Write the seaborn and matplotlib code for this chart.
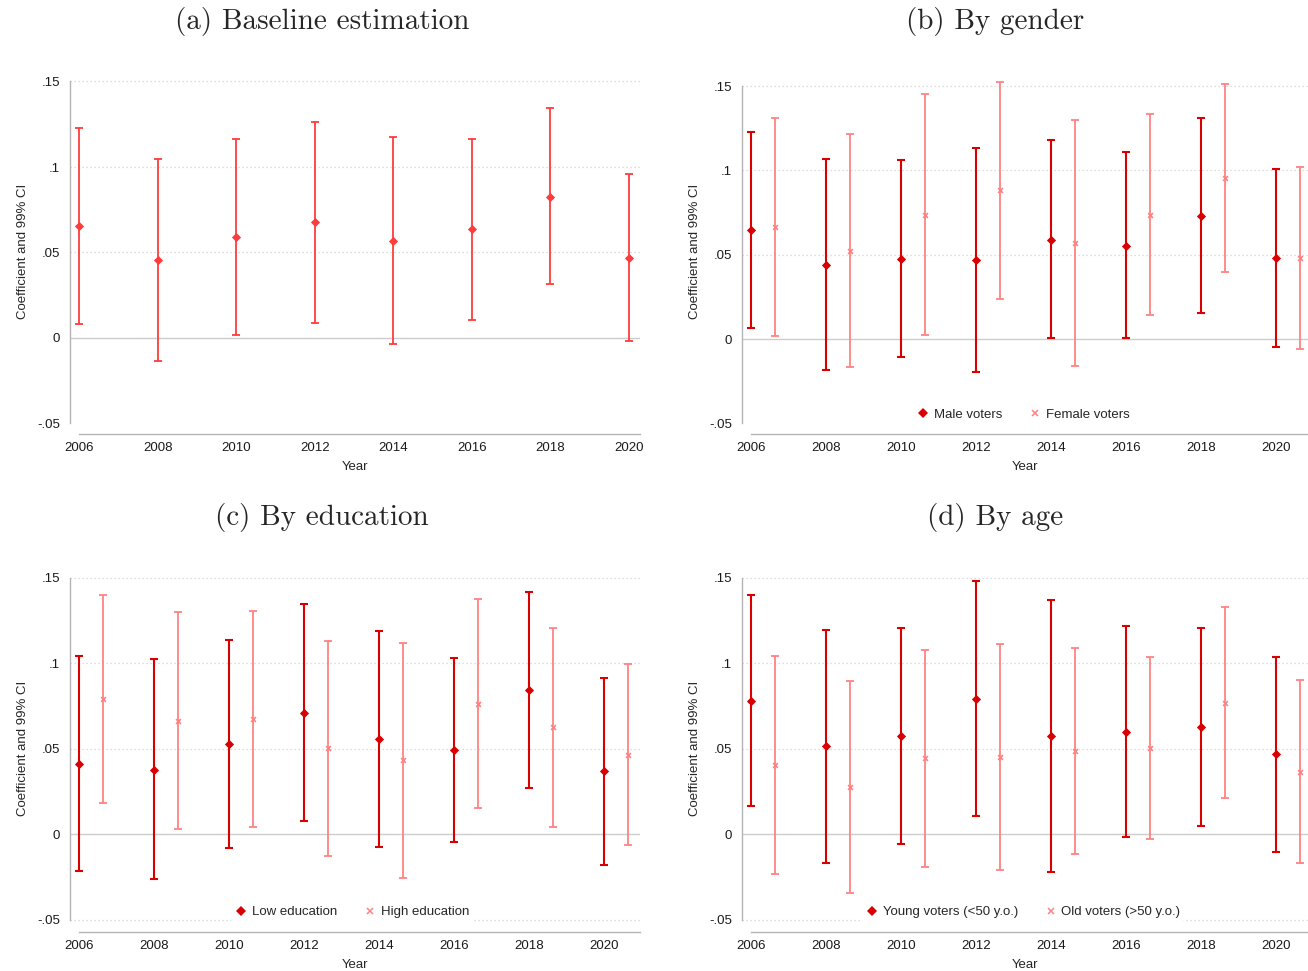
import numpy as np
import pandas as pd
import matplotlib
matplotlib.use("Agg")
import matplotlib.pyplot as plt
import seaborn as sns

# ---------------- data ----------------
years = [2006, 2008, 2010, 2012, 2014, 2016, 2018, 2020]

base_coef = [0.0654, 0.0456, 0.0590, 0.0677, 0.0568, 0.0636, 0.0827, 0.0470]
base_hi   = [0.1227, 0.1046, 0.1166, 0.1264, 0.1175, 0.1163, 0.1343, 0.0958]
base_lo   = [0.0082, -0.0133, 0.0016, 0.0089, -0.0034, 0.0108, 0.0315, -0.0017]

male_coef = [0.0645, 0.0441, 0.0477, 0.0469, 0.0590, 0.0554, 0.0732, 0.0479]
male_hi   = [0.1231, 0.1071, 0.1061, 0.1136, 0.1180, 0.1108, 0.1310, 0.1009]
male_lo   = [0.0067, -0.0186, -0.0105, -0.0196, 0.0006, 0.0006, 0.0154, -0.0047]
fem_coef  = [0.0667, 0.0522, 0.0738, 0.0883, 0.0568, 0.0738, 0.0956, 0.0483]
fem_hi    = [0.1314, 0.1215, 0.1453, 0.1528, 0.1298, 0.1334, 0.1514, 0.1021]
fem_lo    = [0.0020, -0.0166, 0.0024, 0.0239, -0.0162, 0.0144, 0.0400, -0.0057]

low_coef  = [0.0410, 0.0377, 0.0525, 0.0708, 0.0554, 0.0490, 0.0842, 0.0366]
low_hi    = [0.1039, 0.1021, 0.1132, 0.1344, 0.1189, 0.1027, 0.1418, 0.0914]
low_lo    = [-0.0216, -0.0265, -0.0082, 0.0076, -0.0078, -0.0047, 0.0267, -0.0181]
high_coef = [0.0790, 0.0663, 0.0671, 0.0502, 0.0430, 0.0763, 0.0623, 0.0463]
high_hi   = [0.1399, 0.1300, 0.1304, 0.1130, 0.1117, 0.1377, 0.1202, 0.0992]
high_lo   = [0.0183, 0.0029, 0.0039, -0.0126, -0.0259, 0.0152, 0.0041, -0.0064]

young_coef = [0.0778, 0.0512, 0.0574, 0.0790, 0.0572, 0.0599, 0.0625, 0.0465]
young_hi   = [0.1399, 0.1193, 0.1206, 0.1480, 0.1370, 0.1218, 0.1202, 0.1035]
young_lo   = [0.0161, -0.0169, -0.0058, 0.0103, -0.0222, -0.0019, 0.0047, -0.0105]
old_coef   = [0.0403, 0.0274, 0.0442, 0.0451, 0.0484, 0.0502, 0.0768, 0.0364]
old_hi     = [0.1041, 0.0895, 0.1078, 0.1113, 0.1088, 0.1035, 0.1325, 0.0899]
old_lo     = [-0.0233, -0.0346, -0.0193, -0.0212, -0.0117, -0.0029, 0.0212, -0.0169]

titles = ["(a) Baseline estimation", "(b) By gender", "(c) By education", "(d) By age"]
ytick_vals = [-0.05, 0, 0.05, 0.1, 0.15]
ytick_labels = ["-.05", "0", ".05", ".1", ".15"]

# ---------------- style ----------------
sns.set_style("white")
plt.rcParams['font.family'] = ['Liberation Sans', 'DejaVu Sans']

W, H = 1308, 971
fig = plt.figure(figsize=(W / 100, H / 100), dpi=100)

RED_A = '#ff3b3b'
DARK = '#d80000'
LIGHT = '#ff8282'
GREY = '#b4b4b4'


def px_axes(x0, x1, ytop, ybot):
    return fig.add_axes([x0 / W, 1 - ybot / H, (x1 - x0) / W, (ybot - ytop) / H])


def style_axes(ax, xlim, ylim, grid_bottom):
    ax.set_xlim(*xlim)
    ax.set_ylim(*ylim)
    for s in ['top', 'right']:
        ax.spines[s].set_visible(False)
    for s in ['left', 'bottom']:
        ax.spines[s].set_color(GREY)
        ax.spines[s].set_linewidth(1.0)
    ax.spines['left'].set_bounds(-0.05, 0.15)
    ax.spines['bottom'].set_bounds(2006, xlim[1])
    ax.set_xticks(years)
    ax.set_xticklabels([str(y) for y in years], fontsize=9.5)
    ax.set_yticks(ytick_vals)
    ax.set_yticklabels(ytick_labels, fontsize=9.5)
    ax.tick_params(axis='both', direction='out', length=5, width=1.0,
                   color=GREY, pad=2, labelcolor='#1a1a1a')
    ax.tick_params(axis='x', pad=1)
    gl = [0.05, 0.1, 0.15] + ([-0.05] if grid_bottom else [])
    for g in gl:
        ax.axhline(g, color='#d2d2d2', lw=0.9, ls=(0, (1, 2.2)), zorder=0)
    ax.axhline(0, color='#cccccc', lw=1.0, zorder=0)
    ax.set_xlabel("Year", fontsize=9.5, labelpad=5)
    ax.set_ylabel("Coefficient and 99% CI", fontsize=9.5, labelpad=6)


def draw_series(ax, x, coef, lo, hi, color, marker, ms, lw, label):
    df = pd.DataFrame({'x': x, 'coef': coef, 'lo': lo, 'hi': hi})
    ax.errorbar(df['x'], df['coef'],
                yerr=[df['coef'] - df['lo'], df['hi'] - df['coef']],
                fmt='none', ecolor=color, elinewidth=lw, capsize=3.2,
                capthick=lw, zorder=3)
    sns.scatterplot(data=df, x='x', y='coef', ax=ax, color=color, marker=marker,
                    s=ms, linewidth=1.2 if marker == 'x' else 0,
                    edgecolor=color, zorder=4, label=label, legend=False)


def add_title(ax_x0, ax_x1, y, text):
    fig.text((ax_x0 + ax_x1) / 2 / W, 1 - y / H, text, ha='center', va='center',
             fontsize=21, family='cmr10')


def add_legend(ax, cx, cy, labels, colors, markers):
    from matplotlib.lines import Line2D
    handles = [Line2D([], [], ls='none', marker=markers[0], color=colors[0], ms=5.5, mew=0),
               Line2D([], [], ls='none', marker=markers[1], color=colors[1], ms=4, mew=1.1)]
    leg = ax.legend(handles, labels, loc='center',
                    bbox_to_anchor=(cx, cy), bbox_transform=fig.transFigure,
                    ncol=2, frameon=True, fontsize=9.5, handletextpad=0.3,
                    columnspacing=2.0, handlelength=1.0, borderpad=0.3)
    leg.get_frame().set_edgecolor('none')
    leg.get_frame().set_facecolor('white')
    leg.get_frame().set_alpha(1)
    leg.set_zorder(5)


yrs = np.array(years, dtype=float)
off = 0.65

# (a)
ax_a = px_axes(70, 640, 68, 434)
top_a = 0.05 * (338 - 68) / 85.5
bot_a = -0.05 * (434 - 338) / 85.5
style_axes(ax_a, (2005.77, 2020.28), (bot_a, top_a), grid_bottom=False)
draw_series(ax_a, yrs, base_coef, base_lo, base_hi, RED_A, 'D', 22, 1.3, 'Baseline')
add_title(0, 644, 22, titles[0])

# (b)
ax_b = px_axes(742, 1308, 68, 434)
top_b = 0.05 * (339 - 68) / 84.25
bot_b = -0.05 * (434 - 339) / 84.25
style_axes(ax_b, (2005.76, 2020.85), (bot_b, top_b), grid_bottom=False)
draw_series(ax_b, yrs, male_coef, male_lo, male_hi, DARK, 'D', 22, 1.5, 'Male voters')
draw_series(ax_b, yrs + off, fem_coef, fem_lo, fem_hi, LIGHT, 'x', 12, 1.3, 'Female voters')
add_title(654, 1336, 22, titles[1])
add_legend(ax_b, 1023 / W, 1 - 415 / H, ['Male voters', 'Female voters'], [DARK, LIGHT], ['D', 'x'])

# (c)
ax_c = px_axes(70, 640, 564, 932)
top_c = 0.05 * (834 - 564) / 85.5
bot_c = -0.05 * (932 - 834) / 85.5
style_axes(ax_c, (2005.76, 2020.96), (bot_c, top_c), grid_bottom=True)
draw_series(ax_c, yrs, low_coef, low_lo, low_hi, DARK, 'D', 22, 1.5, 'Low education')
draw_series(ax_c, yrs + off, high_coef, high_lo, high_hi, LIGHT, 'x', 12, 1.3, 'High education')
add_title(0, 644, 518, titles[2])
add_legend(ax_c, 352 / W, 1 - 912 / H, ['Low education', 'High education'], [DARK, LIGHT], ['D', 'x'])

# (d)
ax_d = px_axes(742, 1308, 564, 932)
style_axes(ax_d, (2005.76, 2020.85), (bot_c, top_c), grid_bottom=True)
draw_series(ax_d, yrs, young_coef, young_lo, young_hi, DARK, 'D', 22, 1.5, 'Young voters')
draw_series(ax_d, yrs + off, old_coef, old_lo, old_hi, LIGHT, 'x', 12, 1.3, 'Old voters')
add_title(654, 1336, 518, titles[3])
add_legend(ax_d, 1023 / W, 1 - 912 / H, ['Young voters (<50 y.o.)', 'Old voters (>50 y.o.)'], [DARK, LIGHT], ['D', 'x'])

fig.savefig("out.png", dpi=100, facecolor='white')
